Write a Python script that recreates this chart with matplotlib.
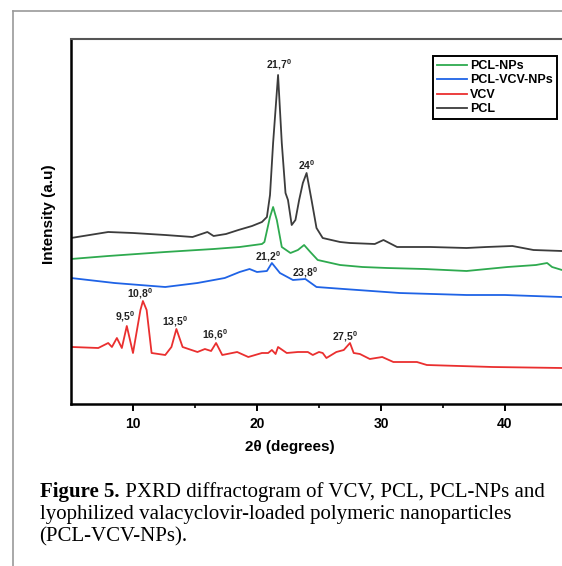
import matplotlib
matplotlib.use("Agg")
import matplotlib.pyplot as plt
from matplotlib.lines import Line2D

# 2theta (deg) / intensity (a.u., stacked offsets as in the figure)
pcl_x = [5.0, 6.5, 8.0, 10.0, 12.6, 14.8, 16.0, 16.5, 17.5, 18.5, 19.6, 20.4, 20.8, 21.05, 21.3,
         21.7, 22.0, 22.3, 22.5, 22.8, 23.1, 23.4, 23.7, 24.0, 24.4, 24.8, 25.3, 26.7, 27.5, 29.5,
         30.2, 31.3, 34.0, 36.9, 38.5, 40.6, 42.3, 44.6]
pcl_y = [166, 169, 172, 171, 169, 167, 172, 168, 170, 174, 178, 182, 187, 209, 261,
         329, 261, 211, 204, 179, 184, 204, 221, 231, 204, 176, 166, 162, 161, 160,
         164, 157, 157, 156, 157, 158, 154, 153]

nps_x = [5.0, 8.0, 12.6, 16.5, 18.6, 20.4, 20.6, 21.05, 21.3, 21.6, 22.0, 22.7, 23.3, 23.8, 24.3,
         24.9, 26.7, 28.5, 30.5, 33.5, 36.9, 40.2, 42.5, 43.4, 43.8, 44.6]
nps_y = [145, 148, 152, 155, 157, 160, 162, 187, 197, 184, 157, 151, 154, 159, 152,
         144, 139, 137, 136, 135, 133, 137, 139, 141, 137, 134]

vcvnps_x = [5.0, 8.5, 12.6, 15.2, 17.4, 18.6, 19.4, 20.0, 20.8, 21.2, 21.85, 22.9, 23.9, 24.8,
            27.0, 31.5, 36.9, 40.0, 44.6]
vcvnps_y = [126, 121, 117, 121, 126, 132, 135, 132, 133, 141, 131, 124, 125, 117,
            115, 111, 109, 109, 107]

vcv_x = [5.1, 7.2, 8.0, 8.3, 8.7, 9.1, 9.5, 10.0, 10.6, 10.8, 11.1, 11.5, 12.6, 13.1, 13.5, 14.0,
         15.2, 15.8, 16.3, 16.7, 17.2, 18.4, 19.3, 20.4, 20.9, 21.2, 21.5, 21.7, 22.4, 23.3, 24.1,
         24.5, 25.0, 25.3, 25.6, 26.4, 27.0, 27.5, 27.8, 28.3, 29.1, 30.1, 31.0, 32.9, 33.7, 39.0,
         44.6]
vcv_y = [57, 56, 61, 57, 66, 56, 78, 51, 94, 103, 94, 51, 49, 57, 75, 57,
         52, 55, 53, 61, 49, 52, 47, 51, 51, 54, 50, 57, 51, 52, 52,
         49, 52, 51, 46, 52, 54, 61, 51, 50, 45, 47, 42, 42, 39, 37,
         36]

peak_labels = ["21,7$^0$", "24$^0$", "21,2$^0$", "23,8$^0$", "10,8$^0$", "9,5$^0$",
               "13,5$^0$", "16,6$^0$", "27,5$^0$"]
peak_x = [21.8, 24.0, 20.9, 23.9, 10.6, 9.35, 13.4, 16.6, 27.1]
peak_y = [339, 239, 147, 131, 110, 87, 82, 69, 67]

plt.rcParams['font.family'] = ['Liberation Sans', 'DejaVu Sans']
plt.rcParams['mathtext.fontset'] = 'custom'
plt.rcParams['mathtext.rm'] = 'Liberation Sans:bold'
plt.rcParams['mathtext.it'] = 'Liberation Sans:bold'

fig = plt.figure(figsize=(5.62, 5.66), dpi=100)
ax = fig.add_axes([71/562, 162/566, 491/562, 365/566])

ax.plot(nps_x, nps_y, color="#2eaa4f", lw=1.3, label="PCL-NPs")
ax.plot(vcvnps_x, vcvnps_y, color="#1f63e6", lw=1.3, label="PCL-VCV-NPs")
ax.plot(vcv_x, vcv_y, color="#ea2f2f", lw=1.3, label="VCV")
ax.plot(pcl_x, pcl_y, color="#3c3c3c", lw=1.3, label="PCL")

for lab, px, py in zip(peak_labels, peak_x, peak_y):
    ax.text(px, py, lab, ha="center", va="center", fontsize=7.5, fontweight="bold", color="#222222")

ax.set_xlim(5, 44.6)
ax.set_ylim(0, 365)
ax.set_xticks([10, 20, 30, 40])
ax.set_xticks([15, 25, 35], minor=True)
ax.set_yticks([])
ax.tick_params(axis="x", which="major", direction="out", length=5, width=1.4,
               labelsize=10, pad=4)
ax.tick_params(axis="x", which="minor", direction="out", length=3, width=1.2)
for lbl in ax.get_xticklabels():
    lbl.set_fontweight("bold")
ax.spines["right"].set_visible(False)
ax.spines["left"].set_linewidth(1.8)
ax.spines["bottom"].set_linewidth(1.8)
ax.spines["top"].set_linewidth(1.5)
ax.spines["top"].set_color("#555555")

ax.set_xlabel("2θ (degrees)", fontsize=11, fontweight="bold")
ax.xaxis.set_label_coords(0.446, -0.1)
ax.set_ylabel("Intensity (a.u)", fontsize=11, fontweight="bold")
ax.yaxis.set_label_coords(-0.03, 0.52)

leg = ax.legend(loc="upper left", bbox_to_anchor=(0.737, 0.953), borderaxespad=0,
                fancybox=False, edgecolor="black", framealpha=1,
                prop={"weight": "bold", "size": 9}, handlelength=2.4,
                labelspacing=0.2, borderpad=0.3, handletextpad=0.3)
leg.get_frame().set_linewidth(1.4)

# page frame
fig.add_artist(Line2D([13/562, 13/562], [0, 1 - 11/566], color="#9a9a9a", lw=1.2))
fig.add_artist(Line2D([13/562, 1], [1 - 11/566, 1 - 11/566], color="#9a9a9a", lw=1.2))

# caption
cap = 15
t1 = fig.text(40/562, 1 - 497/566, "Figure 5.", fontsize=cap, fontweight="bold",
              family="Liberation Serif", va="baseline")
ax.annotate(" PXRD diffractogram of VCV, PCL, PCL-NPs and", xy=(1, 0), xycoords=t1,
            ha="left", va="bottom", fontsize=cap, family="Liberation Serif",
            annotation_clip=False)
fig.text(40/562, 1 - 519/566, "lyophilized valacyclovir-loaded polymeric nanoparticles",
         fontsize=cap, family="Liberation Serif", va="baseline")
fig.text(39/562, 1 - 541/566, "(PCL-VCV-NPs).", fontsize=cap, family="Liberation Serif",
         va="baseline")

fig.savefig("out.png", dpi=100)
